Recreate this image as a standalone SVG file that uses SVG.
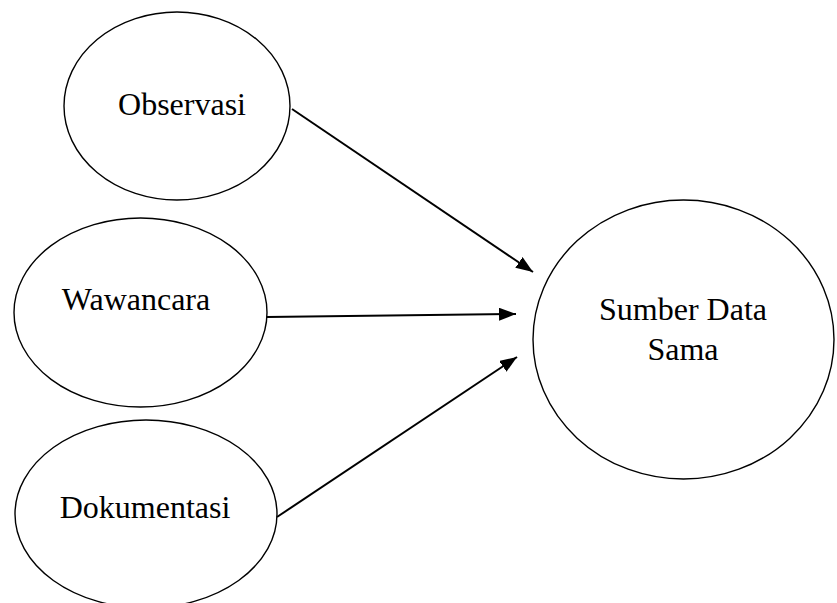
<svg xmlns="http://www.w3.org/2000/svg" width="837" height="603" viewBox="0 0 837 603">
<defs>
<style>
.node ellipse{fill:#fff;stroke:#000;stroke-width:1.4}
.node text{font-family:"Liberation Serif","Times New Roman",serif;font-size:32px;fill:#000;text-anchor:middle}
.edge{stroke:#000;stroke-width:2;fill:none;marker-end:url(#arr)}
</style>
<marker id="arr" markerUnits="userSpaceOnUse" markerWidth="18" markerHeight="14" refX="17" refY="6.5" orient="auto">
<path d="M0,0 L17,6.5 L0,13 z" fill="#000"/>
</marker>
</defs>
<rect width="837" height="603" fill="#fff"/>
<g id="observasi" class="node">
<ellipse cx="177" cy="106" rx="113" ry="94"/>
<text x="182" y="115">Observasi</text>
</g>
<g id="wawancara" class="node">
<ellipse cx="140.5" cy="312.5" rx="126.5" ry="94.5"/>
<text x="136" y="310">Wawancara</text>
</g>
<g id="dokumentasi" class="node">
<ellipse cx="146" cy="514" rx="131" ry="94"/>
<text x="145" y="518">Dokumentasi</text>
</g>
<g id="sumber" class="node">
<ellipse cx="683.5" cy="339.5" rx="150.5" ry="139.5"/>
<text x="683" y="320">Sumber Data</text>
<text x="683" y="360">Sama</text>
</g>
<g id="connectors">
<line class="edge" x1="292" y1="109" x2="533" y2="272"/>
<line class="edge" x1="267" y1="317" x2="516" y2="314"/>
<line class="edge" x1="277" y1="517" x2="517" y2="357"/>
</g>
</svg>
